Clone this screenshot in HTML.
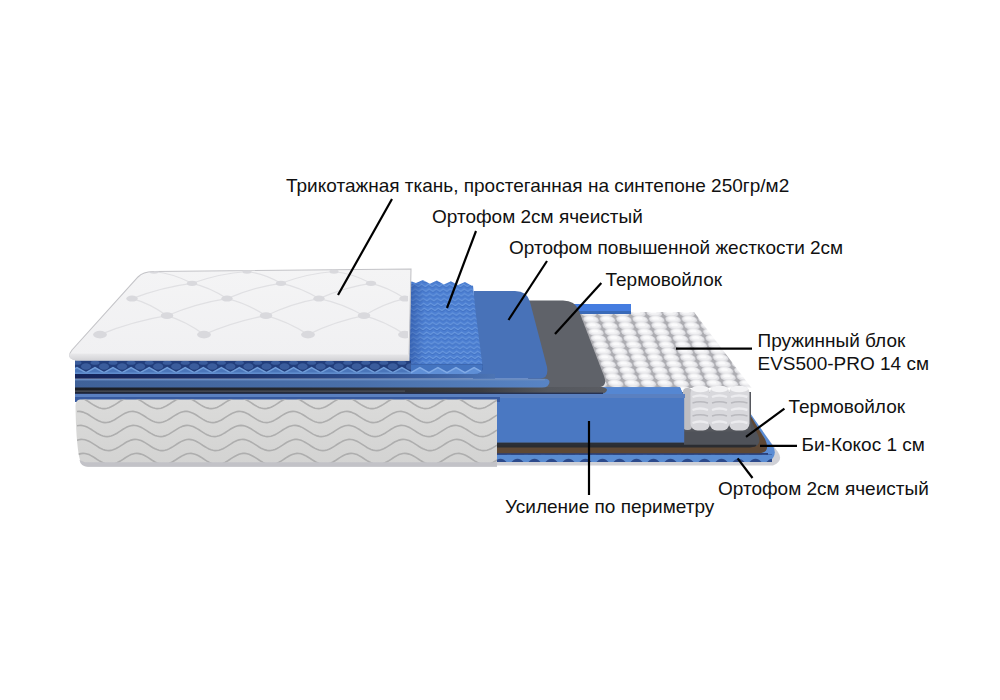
<!DOCTYPE html>
<html><head><meta charset="utf-8">
<style>
html,body{margin:0;padding:0;background:#fff;width:1000px;height:700px;overflow:hidden}
svg{display:block}
text{font-family:"Liberation Sans",sans-serif;font-size:19px;fill:#111}
</style></head><body>
<svg width="1000" height="700" viewBox="0 0 1000 700">
<defs>
  <linearGradient id="gSide" x1="0" y1="0" x2="0" y2="1">
    <stop offset="0" stop-color="#dbdbda"/><stop offset="1" stop-color="#d3d3d2"/>
  </linearGradient>
  <linearGradient id="gPad" x1="0" y1="0" x2="0" y2="1">
    <stop offset="0" stop-color="#f4f4f5"/><stop offset="1" stop-color="#f0f0f2"/>
  </linearGradient>
  <linearGradient id="gFelt" x1="75" y1="0" x2="607" y2="0" gradientUnits="userSpaceOnUse">
    <stop offset="0" stop-color="#1a1d24"/><stop offset="0.42" stop-color="#25282e"/><stop offset="0.76" stop-color="#3a3c42"/><stop offset="0.89" stop-color="#55585e"/><stop offset="1" stop-color="#5a5c62"/>
  </linearGradient>
  <linearGradient id="gNavy" x1="75" y1="0" x2="495" y2="0" gradientUnits="userSpaceOnUse">
    <stop offset="0" stop-color="#142359"/><stop offset="0.4" stop-color="#1e356f"/><stop offset="0.72" stop-color="#2f5090"/><stop offset="0.88" stop-color="#3f64a4"/><stop offset="1" stop-color="#4c74b4"/>
  </linearGradient>
  <linearGradient id="gPadFront" x1="0" y1="0" x2="0" y2="1">
    <stop offset="0" stop-color="#e9e9eb"/><stop offset="1" stop-color="#d2d2d6"/>
  </linearGradient>
  <linearGradient id="gFoamFront" x1="75" y1="0" x2="549" y2="0" gradientUnits="userSpaceOnUse">
    <stop offset="0" stop-color="#3f6198"/><stop offset="0.6" stop-color="#4a70aa"/><stop offset="1" stop-color="#5884c4"/>
  </linearGradient>
  <pattern id="pSpring" width="16.4" height="6.4" patternUnits="userSpaceOnUse" patternTransform="translate(579,309.5) skewX(21)">
    <rect width="16.4" height="6.4" fill="#acacb1"/>
    <ellipse cx="8.2" cy="3.6" rx="7.6" ry="4" fill="#dedee2"/>
    <ellipse cx="8.2" cy="3.0" rx="6" ry="2.9" fill="#f0f0f2"/>
    <ellipse cx="7.6" cy="2.4" rx="3.5" ry="1.5" fill="#fbfbfc"/>
  </pattern>
  <pattern id="pEggTop" width="7" height="4.8" patternUnits="userSpaceOnUse" patternTransform="translate(411,283) skewX(6)">
    <rect width="7" height="4.8" fill="#4c7fd2"/>
    <path d="M0 3.6 L3.5 1.2 L7 3.6" stroke="#6a9ae0" stroke-width="1.3" fill="none"/>
    <path d="M0 4.8 L3.5 2.4 L7 4.8" stroke="#3d6cbe" stroke-width="0.8" fill="none"/>
  </pattern>
  <linearGradient id="gEggShade" x1="405" y1="0" x2="425" y2="0" gradientUnits="userSpaceOnUse">
    <stop offset="0" stop-color="#1d3f8a" stop-opacity="0.55"/><stop offset="1" stop-color="#1d3f8a" stop-opacity="0"/>
  </linearGradient>
  <pattern id="pEggFront" width="9.15" height="7" patternUnits="userSpaceOnUse" patternTransform="translate(75,360.4)">
    <rect width="9.15" height="7" fill="#2d5096"/>
    <path d="M0 6 L4.6 2 L9.15 6" stroke="#4b74bb" stroke-width="1.6" fill="none"/>
  </pattern>
  <pattern id="pEggBot" width="17" height="8" patternUnits="userSpaceOnUse" patternTransform="translate(492,455)">
    <rect width="17" height="8" fill="#5a8cd2"/>
    <path d="M1.5 8 Q8.5 -0.5 15.5 8 Z" fill="#2c4a8c"/>
  </pattern>
</defs>

<!-- ===== bottom right layers ===== -->
<path d="M497 457 L748 411 L778 452 Q784 461 773 465.5 L497 465.5 Z" fill="#cfd0d6"/>
<path d="M497 453 L748 410 L773 446 Q778 455 769 462 L497 462 Z" fill="#5a8cd4"/>
<rect x="497" y="454.5" width="275" height="7.5" fill="url(#pEggBot)"/>
<rect x="497" y="453" width="271" height="1.8" fill="#2a3f78"/>
<path d="M497 447 L748 411.5 L765 439 Q771 452 760 453.2 L497 453.2 Z" fill="#5e4835"/>
<path d="M497 442 L747.5 413 L758 435 Q763 447 750 447 L497 447 Z" fill="#4f5259"/>
<path d="M497 444.8 L756 444.8 Q758 446.5 750 447.5 L497 447.5 Z" fill="#2a2c31"/>
<rect x="497" y="442.5" width="187" height="3" fill="#2c2f35"/>

<!-- ===== springs ===== -->
<path d="M560 312 L694 312 L751.5 388 L560 388 Z" fill="url(#pSpring)"/>
<path d="M682 392 L751 392 L751 431.5 L682 431.5 Z" fill="#56585e"/>
<rect x="683" y="388" width="9" height="42" rx="4" fill="#bebec2"/>
<g fill="#d8d8dc">
  <rect x="690.5" y="386" width="19.5" height="44.5" rx="7"/>
  <rect x="709.8" y="386" width="19.5" height="44.5" rx="7"/>
  <rect x="729" y="386" width="20.5" height="44.5" rx="7"/>
</g>
<g stroke="#ececef" stroke-width="2.4" fill="none">
  <path d="M692.5 397 Q700 394 708 397 M692.5 410 Q700 407 708 410 M692.5 423 Q700 420 708 423 M712 397 Q719.5 394 727 397 M712 410 Q719.5 407 727 410 M712 423 Q719.5 420 727 423 M731 397 Q739 394 747.5 397 M731 410 Q739 407 747.5 410 M731 423 Q739 420 747.5 423"/>
</g>
<g stroke="#b9b9be" stroke-width="1.4" fill="none">
  <path d="M692.5 403 Q700 400.5 708 403 M692.5 416 Q700 413.5 708 416 M712 403 Q719.5 400.5 727 403 M712 416 Q719.5 413.5 727 416 M731 403 Q739 400.5 747.5 403 M731 416 Q739 413.5 747.5 416"/>
</g>
<g fill="#f3f3f5">
  <ellipse cx="700.2" cy="389" rx="8.5" ry="3.2"/>
  <ellipse cx="719.5" cy="389" rx="8.5" ry="3.2"/>
  <ellipse cx="739.2" cy="389" rx="9" ry="3.2"/>
</g>

<!-- back blue strip -->
<rect x="573" y="304" width="58" height="10" fill="#457de0"/>
<rect x="573" y="311" width="58" height="3" fill="#3a6ab8"/>

<!-- ===== perimeter block ===== -->
<path d="M82 387.2 L680 387.2 L684.2 396.7 L684.2 442.5 L82 442.5 Z" fill="#4a78c2"/>
<path d="M75 387.2 L680 387.2 L684.2 396.7 L75 396.7 Z" fill="#5587d2"/>
<rect x="75" y="394" width="610" height="4" fill="#5a80c0"/>
<rect x="75" y="397" width="425" height="5" fill="#375aa0"/>

<!-- ===== felt (upper Термовойлок) ===== -->
<path d="M75 386.8 L600 386.8 Q607 387.5 607 390 Q606 394 599 394 L75 394 Z" fill="url(#gFelt)"/>
<rect x="75" y="390.4" width="330" height="1.5" fill="#464b55"/>
<rect x="75" y="392.6" width="528" height="1.4" fill="#263252"/>
<path d="M528.6 300.6 L563 300.6 Q575 300.6 579 311 L604 376 Q608 387.1 598 387.1 L528 387.1 Z" fill="#5f6269"/>

<!-- ===== foam (повышенной жесткости) ===== -->
<path d="M75 378.7 L545 378.7 Q549.5 379 549.5 382 Q549 387.6 542 387.6 L75 387.6 Z" fill="url(#gFoamFront)"/>
<rect x="75" y="379" width="470" height="1.4" fill="#6a8cc0"/>
<path d="M473.7 291.1 L515 291.1 Q527 291.1 530 302 L547 367 Q549 378.7 540 378.7 L473 378.7 Z" fill="#4872b8"/>
<rect x="75" y="373.9" width="420" height="4.8" fill="url(#gNavy)"/>

<!-- ===== egg crate (upper) ===== -->
<path d="M405,281.5 L411.8,281.5 L415.9,283.0 L422.9,279.9 L429.9,283.7 L436.9,280.6 L443.9,284.4 L450.9,281.3 L457.9,285.1 L464.9,282.0 L471.9,285.8 L473,285.5 L475.6 312 L482 362 Q483.5 374 474 374 L405 374 Z" fill="url(#pEggTop)"/>
<rect x="405" y="284" width="20" height="90" fill="url(#gEggShade)"/>
<clipPath id="clipEggR"><rect x="411" y="364" width="73" height="10"/></clipPath>
<clipPath id="clipEggF"><path d="M75 360.2 L411 360.2 L411 364.5 L482.6 364.5 L482.8 366 Q483.5 374 474 374 L75 374 Z"/></clipPath>
<g clip-path="url(#clipEggF)">
<rect x="75" y="360.2" width="408" height="13.8" fill="#223e7c"/>
<g fill="#3a5c9c"><ellipse cx="86.0" cy="366.5" rx="5" ry="3.2"/><ellipse cx="104.0" cy="366.5" rx="5" ry="3.2"/><ellipse cx="122.1" cy="366.5" rx="5" ry="3.2"/><ellipse cx="140.1" cy="366.5" rx="5" ry="3.2"/><ellipse cx="158.2" cy="366.5" rx="5" ry="3.2"/><ellipse cx="176.2" cy="366.5" rx="5" ry="3.2"/><ellipse cx="194.3" cy="366.5" rx="5" ry="3.2"/><ellipse cx="212.3" cy="366.5" rx="5" ry="3.2"/><ellipse cx="230.4" cy="366.5" rx="5" ry="3.2"/><ellipse cx="248.4" cy="366.5" rx="5" ry="3.2"/><ellipse cx="266.5" cy="366.5" rx="5" ry="3.2"/><ellipse cx="284.5" cy="366.5" rx="5" ry="3.2"/><ellipse cx="302.6" cy="366.5" rx="5" ry="3.2"/><ellipse cx="320.6" cy="366.5" rx="5" ry="3.2"/><ellipse cx="338.7" cy="366.5" rx="5" ry="3.2"/><ellipse cx="356.7" cy="366.5" rx="5" ry="3.2"/><ellipse cx="374.8" cy="366.5" rx="5" ry="3.2"/><ellipse cx="392.8" cy="366.5" rx="5" ry="3.2"/><ellipse cx="410.9" cy="366.5" rx="5" ry="3.2"/><ellipse cx="428.9" cy="366.5" rx="5" ry="3.2"/><ellipse cx="447.0" cy="366.5" rx="5" ry="3.2"/><ellipse cx="465.0" cy="366.5" rx="5" ry="3.2"/><ellipse cx="77.0" cy="362.8" rx="4.5" ry="2"/><ellipse cx="95.0" cy="362.8" rx="4.5" ry="2"/><ellipse cx="113.0" cy="362.8" rx="4.5" ry="2"/><ellipse cx="131.1" cy="362.8" rx="4.5" ry="2"/><ellipse cx="149.2" cy="362.8" rx="4.5" ry="2"/><ellipse cx="167.2" cy="362.8" rx="4.5" ry="2"/><ellipse cx="185.2" cy="362.8" rx="4.5" ry="2"/><ellipse cx="203.3" cy="362.8" rx="4.5" ry="2"/><ellipse cx="221.4" cy="362.8" rx="4.5" ry="2"/><ellipse cx="239.4" cy="362.8" rx="4.5" ry="2"/><ellipse cx="257.5" cy="362.8" rx="4.5" ry="2"/><ellipse cx="275.5" cy="362.8" rx="4.5" ry="2"/><ellipse cx="293.6" cy="362.8" rx="4.5" ry="2"/><ellipse cx="311.6" cy="362.8" rx="4.5" ry="2"/><ellipse cx="329.6" cy="362.8" rx="4.5" ry="2"/><ellipse cx="347.7" cy="362.8" rx="4.5" ry="2"/><ellipse cx="365.8" cy="362.8" rx="4.5" ry="2"/><ellipse cx="383.8" cy="362.8" rx="4.5" ry="2"/><ellipse cx="401.9" cy="362.8" rx="4.5" ry="2"/><ellipse cx="419.9" cy="362.8" rx="4.5" ry="2"/><ellipse cx="437.9" cy="362.8" rx="4.5" ry="2"/><ellipse cx="456.0" cy="362.8" rx="4.5" ry="2"/><ellipse cx="474.1" cy="362.8" rx="4.5" ry="2"/></g>
<path d="M67.9,372.6 L77.0,367.5 L86.0,372.6 L95.0,367.5 L104.0,372.6 L113.0,367.5 L122.1,372.6 L131.1,367.5 L140.1,372.6 L149.2,367.5 L158.2,372.6 L167.2,367.5 L176.2,372.6 L185.2,367.5 L194.3,372.6 L203.3,367.5 L212.3,372.6 L221.4,367.5 L230.4,372.6 L239.4,367.5 L248.4,372.6 L257.5,367.5 L266.5,372.6 L275.5,367.5 L284.5,372.6 L293.6,367.5 L302.6,372.6 L311.6,367.5 L320.6,372.6 L329.6,367.5 L338.7,372.6 L347.7,367.5 L356.7,372.6 L365.8,367.5 L374.8,372.6 L383.8,367.5 L392.8,372.6 L401.9,367.5 L410.9,372.6 L419.9,367.5 L428.9,372.6 L437.9,367.5 L447.0,372.6 L456.0,367.5 L465.0,372.6 L474.1,367.5 L483.1,372.6 L483.1,374 L67.9,374 Z" fill="#4b76ba"/>
<path d="M67.9,372.6 L77.0,367.5 L86.0,372.6 L95.0,367.5 L104.0,372.6 L113.0,367.5 L122.1,372.6 L131.1,367.5 L140.1,372.6 L149.2,367.5 L158.2,372.6 L167.2,367.5 L176.2,372.6 L185.2,367.5 L194.3,372.6 L203.3,367.5 L212.3,372.6 L221.4,367.5 L230.4,372.6 L239.4,367.5 L248.4,372.6 L257.5,367.5 L266.5,372.6 L275.5,367.5 L284.5,372.6 L293.6,367.5 L302.6,372.6 L311.6,367.5 L320.6,372.6 L329.6,367.5 L338.7,372.6 L347.7,367.5 L356.7,372.6 L365.8,367.5 L374.8,372.6 L383.8,367.5 L392.8,372.6 L401.9,367.5 L410.9,372.6 L419.9,367.5 L428.9,372.6 L437.9,367.5 L447.0,372.6 L456.0,367.5 L465.0,372.6 L474.1,367.5 L483.1,372.6" fill="none" stroke="#709cd8" stroke-width="1.5"/>
<rect x="75" y="372.4" width="408" height="1.6" fill="#5f8ccc"/>
<g clip-path="url(#clipEggR)">
<rect x="411" y="364" width="73" height="10" fill="#4474c0"/>
<path d="M67.9,372.6 L77.0,367.5 L86.0,372.6 L95.0,367.5 L104.0,372.6 L113.0,367.5 L122.1,372.6 L131.1,367.5 L140.1,372.6 L149.2,367.5 L158.2,372.6 L167.2,367.5 L176.2,372.6 L185.2,367.5 L194.3,372.6 L203.3,367.5 L212.3,372.6 L221.4,367.5 L230.4,372.6 L239.4,367.5 L248.4,372.6 L257.5,367.5 L266.5,372.6 L275.5,367.5 L284.5,372.6 L293.6,367.5 L302.6,372.6 L311.6,367.5 L320.6,372.6 L329.6,367.5 L338.7,372.6 L347.7,367.5 L356.7,372.6 L365.8,367.5 L374.8,372.6 L383.8,367.5 L392.8,372.6 L401.9,367.5 L410.9,372.6 L419.9,367.5 L428.9,372.6 L437.9,367.5 L447.0,372.6 L456.0,367.5 L465.0,372.6 L474.1,367.5 L483.1,372.6 L483.1,374 L67.9,374 Z" fill="#5f8fd6"/>
<path d="M67.9,372.6 L77.0,367.5 L86.0,372.6 L95.0,367.5 L104.0,372.6 L113.0,367.5 L122.1,372.6 L131.1,367.5 L140.1,372.6 L149.2,367.5 L158.2,372.6 L167.2,367.5 L176.2,372.6 L185.2,367.5 L194.3,372.6 L203.3,367.5 L212.3,372.6 L221.4,367.5 L230.4,372.6 L239.4,367.5 L248.4,372.6 L257.5,367.5 L266.5,372.6 L275.5,367.5 L284.5,372.6 L293.6,367.5 L302.6,372.6 L311.6,367.5 L320.6,372.6 L329.6,367.5 L338.7,372.6 L347.7,367.5 L356.7,372.6 L365.8,367.5 L374.8,372.6 L383.8,367.5 L392.8,372.6 L401.9,367.5 L410.9,372.6 L419.9,367.5 L428.9,372.6 L437.9,367.5 L447.0,372.6 L456.0,367.5 L465.0,372.6 L474.1,367.5 L483.1,372.6" fill="none" stroke="#80aae6" stroke-width="1.5"/>
</g>
</g>

<!-- ===== white quilted top ===== -->
<path d="M153 271.5 L411 269 L409 360.4 L76 359.8 Q66 358 72 350 L138 277 Q143 271.8 153 271.5 Z" fill="url(#gPad)" stroke="#c3c3c7" stroke-width="1.1"/>
<clipPath id="clipPad"><path d="M153 271.5 L408 269 L408 360.4 L76 359.8 Q66 358 72 350 L138 277 Q143 271.8 153 271.5 Z"/></clipPath>
<g clip-path="url(#clipPad)"><g fill="none" stroke="#e0e0e3" stroke-width="1.2"><path d="M154 271.5 Q173.0 273.4 192 283.3 M247 271.5 Q219.5 273.4 192 283.3 M247 271.5 Q264.0 273.4 281 283.3 M334 271.5 Q307.5 273.4 281 283.3 M334 271.5 Q352.5 273.4 371 283.3 M192 283.3 Q162.0 287.0 132 298.6 M192 283.3 Q209.5 287.0 227 298.6 M281 283.3 Q254.0 287.0 227 298.6 M281 283.3 Q300.0 287.0 319 298.6 M371 283.3 Q345.0 287.0 319 298.6 M371 283.3 Q388.0 287.0 405 298.6 M132 298.6 Q149.5 303.1 167 315.7 M227 298.6 Q197.0 303.1 167 315.7 M227 298.6 Q246.5 303.1 266 315.7 M319 298.6 Q292.5 303.1 266 315.7 M319 298.6 Q341.5 303.1 364 315.7 M405 298.6 Q384.5 303.1 364 315.7 M167 315.7 Q133.5 321.1 100 334.6 M167 315.7 Q185.5 321.1 204 334.6 M266 315.7 Q235.0 321.1 204 334.6 M266 315.7 Q287.0 321.1 308 334.6 M364 315.7 Q336.0 321.1 308 334.6 M364 315.7 Q384.5 321.1 405 334.6"/></g>
<g fill="#d9d9dd"><ellipse cx="154" cy="271.5" rx="4.5" ry="2.2"/><ellipse cx="247" cy="271.5" rx="4.5" ry="2.2"/><ellipse cx="334" cy="271.5" rx="4.5" ry="2.2"/><ellipse cx="192" cy="283.3" rx="5.1" ry="2.6"/><ellipse cx="281" cy="283.3" rx="5.1" ry="2.6"/><ellipse cx="371" cy="283.3" rx="5.1" ry="2.6"/><ellipse cx="132" cy="298.6" rx="5.7" ry="3.0"/><ellipse cx="227" cy="298.6" rx="5.7" ry="3.0"/><ellipse cx="319" cy="298.6" rx="5.7" ry="3.0"/><ellipse cx="405" cy="298.6" rx="5.7" ry="3.0"/><ellipse cx="167" cy="315.7" rx="6.3" ry="3.4"/><ellipse cx="266" cy="315.7" rx="6.3" ry="3.4"/><ellipse cx="364" cy="315.7" rx="6.3" ry="3.4"/><ellipse cx="100" cy="334.6" rx="6.9" ry="3.8"/><ellipse cx="204" cy="334.6" rx="6.9" ry="3.8"/><ellipse cx="308" cy="334.6" rx="6.9" ry="3.8"/><ellipse cx="405" cy="334.6" rx="6.9" ry="3.8"/></g></g>
<path d="M70 353.5 L409 354.5 L409 360.4 L76 360.4 Q67 359 70 353.5 Z" fill="url(#gPadFront)"/>

<!-- ===== gray quilted side panel ===== -->
<path d="M80 399.5 Q75.5 400 75.5 406 Q76 440 79 456 Q80.5 466.5 88 466.8 L497 466.8 L497 399.5 Z" fill="url(#gSide)"/>
<g fill="none" stroke="#aeaeae" stroke-width="1.6" clip-path="url(#clipSide)">
  <path d="M77.0,397.4 L79.0,397.5 L81.0,397.9 L83.0,398.6 L85.0,399.6 L87.0,400.7 L89.0,402.0 L91.0,403.3 L93.0,404.6 L95.0,405.8 L97.0,406.8 L99.0,407.7 L101.0,408.3 L103.0,408.6 L105.0,408.6 L107.0,408.3 L109.0,407.7 L111.0,406.8 L113.0,405.8 L115.0,404.6 L117.0,403.3 L119.0,402.0 L121.0,400.7 L123.0,399.6 L125.0,398.6 L127.0,397.9 L129.0,397.5 L131.0,397.4 L133.0,397.6 L135.0,398.1 L137.0,398.8 L139.0,399.8 L141.0,400.9 L143.0,402.2 L145.0,403.5 L147.0,404.8 L149.0,406.0 L151.0,407.0 L153.0,407.8 L155.0,408.3 L157.0,408.6 L159.0,408.5 L161.0,408.2 L163.0,407.5 L165.0,406.6 L167.0,405.5 L169.0,404.3 L171.0,403.0 L173.0,401.7 L175.0,400.5 L177.0,399.4 L179.0,398.5 L181.0,397.8 L183.0,397.5 L185.0,397.4 L187.0,397.7 L189.0,398.2 L191.0,399.0 L193.0,400.0 L195.0,401.2 L197.0,402.5 L199.0,403.8 L201.0,405.1 L203.0,406.2 L205.0,407.2 L207.0,407.9 L209.0,408.4 L211.0,408.6 L213.0,408.5 L215.0,408.1 L217.0,407.4 L219.0,406.4 L221.0,405.3 L223.0,404.0 L225.0,402.7 L227.0,401.4 L229.0,400.2 L231.0,399.2 L233.0,398.3 L235.0,397.7 L237.0,397.4 L239.0,397.4 L241.0,397.7 L243.0,398.3 L245.0,399.2 L247.0,400.2 L249.0,401.4 L251.0,402.7 L253.0,404.0 L255.0,405.3 L257.0,406.4 L259.0,407.4 L261.0,408.1 L263.0,408.5 L265.0,408.6 L267.0,408.4 L269.0,407.9 L271.0,407.2 L273.0,406.2 L275.0,405.1 L277.0,403.8 L279.0,402.5 L281.0,401.2 L283.0,400.0 L285.0,399.0 L287.0,398.2 L289.0,397.7 L291.0,397.4 L293.0,397.5 L295.0,397.8 L297.0,398.5 L299.0,399.4 L301.0,400.5 L303.0,401.7 L305.0,403.0 L307.0,404.3 L309.0,405.5 L311.0,406.6 L313.0,407.5 L315.0,408.2 L317.0,408.5 L319.0,408.6 L321.0,408.3 L323.0,407.8 L325.0,407.0 L327.0,406.0 L329.0,404.8 L331.0,403.5 L333.0,402.2 L335.0,400.9 L337.0,399.8 L339.0,398.8 L341.0,398.1 L343.0,397.6 L345.0,397.4 L347.0,397.5 L349.0,397.9 L351.0,398.6 L353.0,399.6 L355.0,400.7 L357.0,402.0 L359.0,403.3 L361.0,404.6 L363.0,405.8 L365.0,406.8 L367.0,407.7 L369.0,408.3 L371.0,408.6 L373.0,408.6 L375.0,408.3 L377.0,407.7 L379.0,406.8 L381.0,405.8 L383.0,404.6 L385.0,403.3 L387.0,402.0 L389.0,400.7 L391.0,399.6 L393.0,398.6 L395.0,397.9 L397.0,397.5 L399.0,397.4 L401.0,397.6 L403.0,398.1 L405.0,398.8 L407.0,399.8 L409.0,400.9 L411.0,402.2 L413.0,403.5 L415.0,404.8 L417.0,406.0 L419.0,407.0 L421.0,407.8 L423.0,408.3 L425.0,408.6 L427.0,408.5 L429.0,408.2 L431.0,407.5 L433.0,406.6 L435.0,405.5 L437.0,404.3 L439.0,403.0 L441.0,401.7 L443.0,400.5 L445.0,399.4 L447.0,398.5 L449.0,397.8 L451.0,397.5 L453.0,397.4 L455.0,397.7 L457.0,398.2 L459.0,399.0 L461.0,400.0 L463.0,401.2 L465.0,402.5 L467.0,403.8 L469.0,405.1 L471.0,406.2 L473.0,407.2 L475.0,407.9 L477.0,408.4 L479.0,408.6 L481.0,408.5 L483.0,408.1 L485.0,407.4 L487.0,406.4 L489.0,405.3 L491.0,404.0 L493.0,402.7 L495.0,401.4 L497.0,400.2 M77.0,411.5 L79.0,411.4 L81.0,411.6 L83.0,412.1 L85.0,412.9 L87.0,413.8 L89.0,415.0 L91.0,416.3 L93.0,417.6 L95.0,418.9 L97.0,420.0 L99.0,421.1 L101.0,421.8 L103.0,422.4 L105.0,422.6 L107.0,422.5 L109.0,422.1 L111.0,421.5 L113.0,420.6 L115.0,419.5 L117.0,418.2 L119.0,416.9 L121.0,415.6 L123.0,414.4 L125.0,413.3 L127.0,412.4 L129.0,411.8 L131.0,411.5 L133.0,411.4 L135.0,411.7 L137.0,412.2 L139.0,413.0 L141.0,414.1 L143.0,415.3 L145.0,416.5 L147.0,417.9 L149.0,419.1 L151.0,420.3 L153.0,421.2 L155.0,422.0 L157.0,422.4 L159.0,422.6 L161.0,422.5 L163.0,422.0 L165.0,421.3 L167.0,420.4 L169.0,419.2 L171.0,418.0 L173.0,416.7 L175.0,415.4 L177.0,414.2 L179.0,413.1 L181.0,412.3 L183.0,411.7 L185.0,411.4 L187.0,411.4 L189.0,411.8 L191.0,412.4 L193.0,413.2 L195.0,414.3 L197.0,415.5 L199.0,416.8 L201.0,418.1 L203.0,419.4 L205.0,420.5 L207.0,421.4 L209.0,422.1 L211.0,422.5 L213.0,422.6 L215.0,422.4 L217.0,421.9 L219.0,421.1 L221.0,420.2 L223.0,419.0 L225.0,417.7 L227.0,416.4 L229.0,415.1 L231.0,414.0 L233.0,412.9 L235.0,412.2 L237.0,411.6 L239.0,411.4 L241.0,411.5 L243.0,411.9 L245.0,412.5 L247.0,413.4 L249.0,414.5 L251.0,415.8 L253.0,417.1 L255.0,418.4 L257.0,419.6 L259.0,420.7 L261.0,421.6 L263.0,422.2 L265.0,422.5 L267.0,422.6 L269.0,422.3 L271.0,421.8 L273.0,421.0 L275.0,419.9 L277.0,418.7 L279.0,417.5 L281.0,416.1 L283.0,414.9 L285.0,413.7 L287.0,412.8 L289.0,412.0 L291.0,411.6 L293.0,411.4 L295.0,411.5 L297.0,412.0 L299.0,412.7 L301.0,413.6 L303.0,414.8 L305.0,416.0 L307.0,417.3 L309.0,418.6 L311.0,419.8 L313.0,420.9 L315.0,421.7 L317.0,422.3 L319.0,422.6 L321.0,422.6 L323.0,422.2 L325.0,421.6 L327.0,420.8 L329.0,419.7 L331.0,418.5 L333.0,417.2 L335.0,415.9 L337.0,414.6 L339.0,413.5 L341.0,412.6 L343.0,411.9 L345.0,411.5 L347.0,411.4 L349.0,411.6 L351.0,412.1 L353.0,412.9 L355.0,413.8 L357.0,415.0 L359.0,416.3 L361.0,417.6 L363.0,418.9 L365.0,420.0 L367.0,421.1 L369.0,421.8 L371.0,422.4 L373.0,422.6 L375.0,422.5 L377.0,422.1 L379.0,421.5 L381.0,420.6 L383.0,419.5 L385.0,418.2 L387.0,416.9 L389.0,415.6 L391.0,414.4 L393.0,413.3 L395.0,412.4 L397.0,411.8 L399.0,411.5 L401.0,411.4 L403.0,411.7 L405.0,412.2 L407.0,413.0 L409.0,414.1 L411.0,415.3 L413.0,416.5 L415.0,417.9 L417.0,419.1 L419.0,420.3 L421.0,421.2 L423.0,422.0 L425.0,422.4 L427.0,422.6 L429.0,422.5 L431.0,422.0 L433.0,421.3 L435.0,420.4 L437.0,419.2 L439.0,418.0 L441.0,416.7 L443.0,415.4 L445.0,414.2 L447.0,413.1 L449.0,412.3 L451.0,411.7 L453.0,411.4 L455.0,411.4 L457.0,411.8 L459.0,412.4 L461.0,413.2 L463.0,414.3 L465.0,415.5 L467.0,416.8 L469.0,418.1 L471.0,419.4 L473.0,420.5 L475.0,421.4 L477.0,422.1 L479.0,422.5 L481.0,422.6 L483.0,422.4 L485.0,421.9 L487.0,421.1 L489.0,420.2 L491.0,419.0 L493.0,417.7 L495.0,416.4 L497.0,415.1 M77.0,425.8 L79.0,425.5 L81.0,425.4 L83.0,425.7 L85.0,426.3 L87.0,427.1 L89.0,428.1 L91.0,429.3 L93.0,430.6 L95.0,431.9 L97.0,433.2 L99.0,434.3 L101.0,435.3 L103.0,436.0 L105.0,436.4 L107.0,436.6 L109.0,436.4 L111.0,436.0 L113.0,435.3 L115.0,434.3 L117.0,433.2 L119.0,431.9 L121.0,430.6 L123.0,429.3 L125.0,428.1 L127.0,427.1 L129.0,426.3 L131.0,425.7 L133.0,425.4 L135.0,425.5 L137.0,425.8 L139.0,426.4 L141.0,427.3 L143.0,428.4 L145.0,429.6 L147.0,430.9 L149.0,432.2 L151.0,433.4 L153.0,434.5 L155.0,435.4 L157.0,436.1 L159.0,436.5 L161.0,436.6 L163.0,436.4 L165.0,435.9 L167.0,435.1 L169.0,434.1 L171.0,432.9 L173.0,431.7 L175.0,430.3 L177.0,429.1 L179.0,427.9 L181.0,426.9 L183.0,426.1 L185.0,425.6 L187.0,425.4 L189.0,425.5 L191.0,425.9 L193.0,426.6 L195.0,427.5 L197.0,428.6 L199.0,429.8 L201.0,431.1 L203.0,432.4 L205.0,433.6 L207.0,434.7 L209.0,435.6 L211.0,436.2 L213.0,436.5 L215.0,436.6 L217.0,436.3 L219.0,435.7 L221.0,434.9 L223.0,433.9 L225.0,432.7 L227.0,431.4 L229.0,430.1 L231.0,428.8 L233.0,427.7 L235.0,426.7 L237.0,426.0 L239.0,425.6 L241.0,425.4 L243.0,425.6 L245.0,426.0 L247.0,426.7 L249.0,427.7 L251.0,428.8 L253.0,430.1 L255.0,431.4 L257.0,432.7 L259.0,433.9 L261.0,434.9 L263.0,435.7 L265.0,436.3 L267.0,436.6 L269.0,436.5 L271.0,436.2 L273.0,435.6 L275.0,434.7 L277.0,433.6 L279.0,432.4 L281.0,431.1 L283.0,429.8 L285.0,428.6 L287.0,427.5 L289.0,426.6 L291.0,425.9 L293.0,425.5 L295.0,425.4 L297.0,425.6 L299.0,426.1 L301.0,426.9 L303.0,427.9 L305.0,429.1 L307.0,430.3 L309.0,431.7 L311.0,432.9 L313.0,434.1 L315.0,435.1 L317.0,435.9 L319.0,436.4 L321.0,436.6 L323.0,436.5 L325.0,436.1 L327.0,435.4 L329.0,434.5 L331.0,433.4 L333.0,432.2 L335.0,430.9 L337.0,429.6 L339.0,428.4 L341.0,427.3 L343.0,426.4 L345.0,425.8 L347.0,425.5 L349.0,425.4 L351.0,425.7 L353.0,426.3 L355.0,427.1 L357.0,428.1 L359.0,429.3 L361.0,430.6 L363.0,431.9 L365.0,433.2 L367.0,434.3 L369.0,435.3 L371.0,436.0 L373.0,436.4 L375.0,436.6 L377.0,436.4 L379.0,436.0 L381.0,435.3 L383.0,434.3 L385.0,433.2 L387.0,431.9 L389.0,430.6 L391.0,429.3 L393.0,428.1 L395.0,427.1 L397.0,426.3 L399.0,425.7 L401.0,425.4 L403.0,425.5 L405.0,425.8 L407.0,426.4 L409.0,427.3 L411.0,428.4 L413.0,429.6 L415.0,430.9 L417.0,432.2 L419.0,433.4 L421.0,434.5 L423.0,435.4 L425.0,436.1 L427.0,436.5 L429.0,436.6 L431.0,436.4 L433.0,435.9 L435.0,435.1 L437.0,434.1 L439.0,432.9 L441.0,431.7 L443.0,430.3 L445.0,429.1 L447.0,427.9 L449.0,426.9 L451.0,426.1 L453.0,425.6 L455.0,425.4 L457.0,425.5 L459.0,425.9 L461.0,426.6 L463.0,427.5 L465.0,428.6 L467.0,429.8 L469.0,431.1 L471.0,432.4 L473.0,433.6 L475.0,434.7 L477.0,435.6 L479.0,436.2 L481.0,436.5 L483.0,436.6 L485.0,436.3 L487.0,435.7 L489.0,434.9 L491.0,433.9 L493.0,432.7 L495.0,431.4 L497.0,430.1 M77.0,440.2 L79.0,439.7 L81.0,439.4 L83.0,439.5 L85.0,439.8 L87.0,440.4 L89.0,441.3 L91.0,442.4 L93.0,443.6 L95.0,444.9 L97.0,446.2 L99.0,447.5 L101.0,448.6 L103.0,449.5 L105.0,450.1 L107.0,450.5 L109.0,450.6 L111.0,450.4 L113.0,449.8 L115.0,449.1 L117.0,448.0 L119.0,446.9 L121.0,445.6 L123.0,444.3 L125.0,443.0 L127.0,441.8 L129.0,440.9 L131.0,440.1 L133.0,439.6 L135.0,439.4 L137.0,439.5 L139.0,439.9 L141.0,440.6 L143.0,441.5 L145.0,442.6 L147.0,443.9 L149.0,445.2 L151.0,446.5 L153.0,447.7 L155.0,448.8 L157.0,449.6 L159.0,450.2 L161.0,450.6 L163.0,450.6 L165.0,450.3 L167.0,449.7 L169.0,448.9 L171.0,447.8 L173.0,446.6 L175.0,445.3 L177.0,444.0 L179.0,442.8 L181.0,441.6 L183.0,440.7 L185.0,440.0 L187.0,439.5 L189.0,439.4 L191.0,439.6 L193.0,440.0 L195.0,440.8 L197.0,441.7 L199.0,442.9 L201.0,444.1 L203.0,445.5 L205.0,446.7 L207.0,447.9 L209.0,449.0 L211.0,449.8 L213.0,450.3 L215.0,450.6 L217.0,450.5 L219.0,450.2 L221.0,449.6 L223.0,448.7 L225.0,447.6 L227.0,446.4 L229.0,445.1 L231.0,443.8 L233.0,442.5 L235.0,441.4 L237.0,440.5 L239.0,439.9 L241.0,439.5 L243.0,439.4 L245.0,439.6 L247.0,440.2 L249.0,440.9 L251.0,442.0 L253.0,443.1 L255.0,444.4 L257.0,445.7 L259.0,447.0 L261.0,448.2 L263.0,449.1 L265.0,449.9 L267.0,450.4 L269.0,450.6 L271.0,450.5 L273.0,450.1 L275.0,449.4 L277.0,448.5 L279.0,447.4 L281.0,446.1 L283.0,444.8 L285.0,443.5 L287.0,442.3 L289.0,441.2 L291.0,440.4 L293.0,439.8 L295.0,439.4 L297.0,439.4 L299.0,439.7 L301.0,440.3 L303.0,441.1 L305.0,442.2 L307.0,443.4 L309.0,444.7 L311.0,446.0 L313.0,447.2 L315.0,448.4 L317.0,449.3 L319.0,450.0 L321.0,450.5 L323.0,450.6 L325.0,450.4 L327.0,450.0 L329.0,449.2 L331.0,448.3 L333.0,447.1 L335.0,445.9 L337.0,444.5 L339.0,443.3 L341.0,442.1 L343.0,441.0 L345.0,440.2 L347.0,439.7 L349.0,439.4 L351.0,439.5 L353.0,439.8 L355.0,440.4 L357.0,441.3 L359.0,442.4 L361.0,443.6 L363.0,444.9 L365.0,446.2 L367.0,447.5 L369.0,448.6 L371.0,449.5 L373.0,450.1 L375.0,450.5 L377.0,450.6 L379.0,450.4 L381.0,449.8 L383.0,449.1 L385.0,448.0 L387.0,446.9 L389.0,445.6 L391.0,444.3 L393.0,443.0 L395.0,441.8 L397.0,440.9 L399.0,440.1 L401.0,439.6 L403.0,439.4 L405.0,439.5 L407.0,439.9 L409.0,440.6 L411.0,441.5 L413.0,442.6 L415.0,443.9 L417.0,445.2 L419.0,446.5 L421.0,447.7 L423.0,448.8 L425.0,449.6 L427.0,450.2 L429.0,450.6 L431.0,450.6 L433.0,450.3 L435.0,449.7 L437.0,448.9 L439.0,447.8 L441.0,446.6 L443.0,445.3 L445.0,444.0 L447.0,442.8 L449.0,441.6 L451.0,440.7 L453.0,440.0 L455.0,439.5 L457.0,439.4 L459.0,439.6 L461.0,440.0 L463.0,440.8 L465.0,441.7 L467.0,442.9 L469.0,444.1 L471.0,445.5 L473.0,446.7 L475.0,447.9 L477.0,449.0 L479.0,449.8 L481.0,450.3 L483.0,450.6 L485.0,450.5 L487.0,450.2 L489.0,449.6 L491.0,448.7 L493.0,447.6 L495.0,446.4 L497.0,445.1 M77.0,454.8 L79.0,454.1 L81.0,453.6 L83.0,453.4 L85.0,453.5 L87.0,453.9 L89.0,454.6 L91.0,455.6 L93.0,456.7 L95.0,458.0 L97.0,459.3 L99.0,460.6 L101.0,461.8 L103.0,462.8 L105.0,463.7 L107.0,464.3 L109.0,464.6 L111.0,464.6 L113.0,464.3 L115.0,463.7 L117.0,462.8 L119.0,461.8 L121.0,460.6 L123.0,459.3 L125.0,458.0 L127.0,456.7 L129.0,455.6 L131.0,454.6 L133.0,453.9 L135.0,453.5 L137.0,453.4 L139.0,453.6 L141.0,454.1 L143.0,454.8 L145.0,455.8 L147.0,456.9 L149.0,458.2 L151.0,459.5 L153.0,460.8 L155.0,462.0 L157.0,463.0 L159.0,463.8 L161.0,464.3 L163.0,464.6 L165.0,464.5 L167.0,464.2 L169.0,463.5 L171.0,462.6 L173.0,461.5 L175.0,460.3 L177.0,459.0 L179.0,457.7 L181.0,456.5 L183.0,455.4 L185.0,454.5 L187.0,453.8 L189.0,453.5 L191.0,453.4 L193.0,453.7 L195.0,454.2 L197.0,455.0 L199.0,456.0 L201.0,457.2 L203.0,458.5 L205.0,459.8 L207.0,461.1 L209.0,462.2 L211.0,463.2 L213.0,463.9 L215.0,464.4 L217.0,464.6 L219.0,464.5 L221.0,464.1 L223.0,463.4 L225.0,462.4 L227.0,461.3 L229.0,460.0 L231.0,458.7 L233.0,457.4 L235.0,456.2 L237.0,455.2 L239.0,454.3 L241.0,453.7 L243.0,453.4 L245.0,453.4 L247.0,453.7 L249.0,454.3 L251.0,455.2 L253.0,456.2 L255.0,457.4 L257.0,458.7 L259.0,460.0 L261.0,461.3 L263.0,462.4 L265.0,463.4 L267.0,464.1 L269.0,464.5 L271.0,464.6 L273.0,464.4 L275.0,463.9 L277.0,463.2 L279.0,462.2 L281.0,461.1 L283.0,459.8 L285.0,458.5 L287.0,457.2 L289.0,456.0 L291.0,455.0 L293.0,454.2 L295.0,453.7 L297.0,453.4 L299.0,453.5 L301.0,453.8 L303.0,454.5 L305.0,455.4 L307.0,456.5 L309.0,457.7 L311.0,459.0 L313.0,460.3 L315.0,461.5 L317.0,462.6 L319.0,463.5 L321.0,464.2 L323.0,464.5 L325.0,464.6 L327.0,464.3 L329.0,463.8 L331.0,463.0 L333.0,462.0 L335.0,460.8 L337.0,459.5 L339.0,458.2 L341.0,456.9 L343.0,455.8 L345.0,454.8 L347.0,454.1 L349.0,453.6 L351.0,453.4 L353.0,453.5 L355.0,453.9 L357.0,454.6 L359.0,455.6 L361.0,456.7 L363.0,458.0 L365.0,459.3 L367.0,460.6 L369.0,461.8 L371.0,462.8 L373.0,463.7 L375.0,464.3 L377.0,464.6 L379.0,464.6 L381.0,464.3 L383.0,463.7 L385.0,462.8 L387.0,461.8 L389.0,460.6 L391.0,459.3 L393.0,458.0 L395.0,456.7 L397.0,455.6 L399.0,454.6 L401.0,453.9 L403.0,453.5 L405.0,453.4 L407.0,453.6 L409.0,454.1 L411.0,454.8 L413.0,455.8 L415.0,456.9 L417.0,458.2 L419.0,459.5 L421.0,460.8 L423.0,462.0 L425.0,463.0 L427.0,463.8 L429.0,464.3 L431.0,464.6 L433.0,464.5 L435.0,464.2 L437.0,463.5 L439.0,462.6 L441.0,461.5 L443.0,460.3 L445.0,459.0 L447.0,457.7 L449.0,456.5 L451.0,455.4 L453.0,454.5 L455.0,453.8 L457.0,453.5 L459.0,453.4 L461.0,453.7 L463.0,454.2 L465.0,455.0 L467.0,456.0 L469.0,457.2 L471.0,458.5 L473.0,459.8 L475.0,461.1 L477.0,462.2 L479.0,463.2 L481.0,463.9 L483.0,464.4 L485.0,464.6 L487.0,464.5 L489.0,464.1 L491.0,463.4 L493.0,462.4 L495.0,461.3 L497.0,460.0"/>
</g>
<path d="M79.5 460 Q80.5 466.5 88 466.8 L497 466.8 L497 462.3 L85 462.3 Z" fill="#c2c2c7"/>

<!-- ===== leader lines ===== -->
<g stroke="#000" stroke-width="2.2" fill="none">
  <line x1="392" y1="199" x2="338" y2="295"/>
  <line x1="476" y1="231" x2="447" y2="308"/>
  <line x1="547" y1="261" x2="508.5" y2="320"/>
  <line x1="601.3" y1="283" x2="555" y2="334"/>
  <line x1="676" y1="348.7" x2="752" y2="348.7"/>
  <line x1="784.4" y1="408.6" x2="746" y2="436.8"/>
  <line x1="760" y1="445.8" x2="797" y2="445.8"/>
  <line x1="737.6" y1="458.4" x2="752.5" y2="478"/>
  <line x1="589" y1="421" x2="589" y2="495"/>
</g>

<!-- ===== labels ===== -->
<text x="286" y="192.1">Трикотажная ткань, простеганная на синтепоне 250гр/м2</text>
<text x="432" y="223.1">Ортофом 2см ячеистый</text>
<text x="509" y="254.2">Ортофом повышенной жесткости 2см</text>
<text x="605.5" y="286.0">Термовойлок</text>
<text x="757.5" y="346.9">Пружинный блок</text>
<text x="757.5" y="369.7">EVS500-PRO 14 см</text>
<text x="788.5" y="412.9">Термовойлок</text>
<text x="801.5" y="451.3">Би-Кокос 1 см</text>
<text x="718" y="494.5">Ортофом 2см ячеистый</text>
<text x="505" y="513.4">Усиление по периметру</text>
<clipPath id="clipSide"><path d="M80 399.5 Q75.5 400 75.5 406 Q76 440 79 456 Q80.5 466.5 88 466.8 L497 466.8 L497 399.5 Z"/></clipPath>
</svg>
</body></html>
